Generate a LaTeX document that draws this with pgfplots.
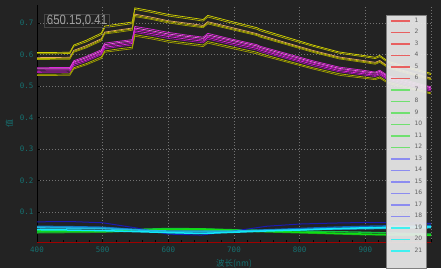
\documentclass[border=0pt]{standalone}
\usepackage{pgfplots}
\pgfplotsset{compat=1.18}
\usepackage{pgfplotstable}
\usepackage{graphicx}
\usepackage{fontspec}
\setmainfont{DejaVu Sans}
\setmonofont{DejaVu Sans Mono}
\newfontfamily\cjk{Noto Sans CJK SC}
\newfontfamily\annfont{Liberation Sans}

\definecolor{bgc}{RGB}{35,35,35}
\definecolor{tealc}{RGB}{22,112,112}
\definecolor{gridc}{RGB}{115,115,115}
\definecolor{ylwA}{RGB}{212,212,0}
\definecolor{ylwB}{RGB}{182,182,0}
\definecolor{ylwC}{RGB}{158,158,0}
\definecolor{orgA}{RGB}{228,168,92}
\definecolor{magA}{RGB}{222,40,222}
\definecolor{magB}{RGB}{190,22,190}
\definecolor{magC}{RGB}{165,20,175}
\definecolor{pnkA}{RGB}{240,100,230}
\definecolor{dblue}{RGB}{26,26,176}
\definecolor{mblue}{RGB}{16,96,192}
\definecolor{tblue}{RGB}{24,144,200}
\definecolor{cyanB}{RGB}{32,184,224}
\definecolor{cyanA}{RGB}{16,232,248}
\definecolor{grnA}{RGB}{16,224,16}
\definecolor{grnB}{RGB}{32,160,32}
\definecolor{grnC}{RGB}{16,192,64}
\definecolor{redd}{RGB}{160,0,0}
\definecolor{legred}{RGB}{232,96,96}
\definecolor{leggrn}{RGB}{112,224,112}
\definecolor{legblu}{RGB}{140,140,240}
\definecolor{legcyn}{RGB}{64,240,240}
\definecolor{legbg}{RGB}{234,234,234}
\definecolor{legtxt}{RGB}{96,96,96}

\pgfplotstableread{
x a b c d e f g h i j k l
400 .606 .602 .590 .587 .584 .558 .555 .551 .547 .543 .537 .533
450 .607 .603 .591 .588 .585 .559 .555 .552 .548 .544 .538 .534
456 .630 .626 .613 .610 .607 .580 .576 .573 .569 .564 .558 .554
475 .645 .640 .628 .624 .621 .594 .590 .586 .582 .578 .571 .567
498 .668 .663 .650 .647 .643 .615 .611 .607 .603 .599 .592 .587
503 .690 .685 .671 .668 .665 .636 .631 .627 .623 .618 .611 .607
525 .697 .692 .678 .675 .671 .642 .638 .634 .629 .625 .618 .613
545 .703 .698 .684 .681 .677 .647 .643 .639 .635 .630 .623 .618
549 .748 .743 .728 .724 .720 .689 .684 .680 .675 .670 .663 .658
575 .738 .733 .718 .714 .711 .680 .675 .671 .666 .661 .654 .649
600 .727 .722 .707 .704 .700 .670 .665 .661 .657 .651 .644 .639
630 .718 .713 .699 .695 .691 .661 .657 .653 .648 .643 .636 .631
653 .711 .706 .692 .688 .685 .655 .651 .646 .642 .637 .630 .625
660 .724 .719 .704 .701 .697 .667 .662 .658 .654 .649 .641 .636
690 .708 .703 .689 .685 .682 .652 .648 .644 .639 .634 .627 .622
735 .685 .680 .666 .663 .660 .631 .627 .623 .619 .614 .607 .602
740 .680 .675 .662 .658 .655 .626 .622 .618 .614 .609 .603 .598
780 .655 .650 .637 .634 .631 .603 .599 .595 .591 .587 .580 .576
820 .630 .626 .613 .610 .607 .580 .576 .573 .569 .564 .558 .554
860 .608 .604 .592 .589 .586 .560 .556 .553 .549 .545 .539 .534
900 .596 .592 .580 .577 .574 .549 .545 .542 .538 .534 .528 .524
915 .591 .587 .575 .572 .569 .544 .541 .537 .534 .530 .524 .520
922 .597 .593 .581 .578 .575 .550 .546 .543 .539 .535 .529 .525
935 .578 .574 .562 .560 .557 .532 .529 .525 .522 .518 .512 .508
960 .563 .559 .548 .545 .542 .519 .515 .512 .508 .504 .499 .495
1000 .540 .536 .525 .523 .520 .497 .494 .491 .488 .484 .478 .475
}\uppertab

\pgfplotstableread{
x db mb tb cb2 cb gb gd gm rd
400 .069 .055 .053 .050 .044 .040 .034 .037 .004
450 .070 .054 .052 .049 .043 .040 .035 .038 .004
500 .066 .052 .050 .047 .041 .040 .036 .040 .004
550 .050 .045 .044 .043 .038 .044 .040 .045 .004
600 .030 .034 .038 .040 .035 .045 .044 .048 .004
650 .027 .033 .037 .040 .032 .046 .043 .047 .004
700 .040 .038 .038 .040 .036 .042 .040 .044 .004
750 .055 .044 .042 .042 .040 .039 .037 .042 .004
800 .062 .048 .045 .044 .043 .036 .034 .040 .004
850 .065 .052 .048 .046 .047 .033 .031 .038 .004
900 .067 .055 .050 .047 .050 .030 .028 .036 .004
950 .066 .057 .053 .049 .052 .028 .027 .033 .004
1000 .064 .058 .055 .050 .053 .027 .026 .030 .004
}\lowertab

\begin{document}
\begin{tikzpicture}
\fill[bgc] (0,0) rectangle (441pt,268pt);
\begin{axis}[
  at={(37pt,26pt)}, anchor=south west,
  scale only axis, width=394pt, height=237pt,
  xmin=400, xmax=1000, ymin=0.005, ymax=0.757,
  axis x line*=bottom, axis y line*=left,
  axis line style={black, line width=0.8pt, -},
  xtick={400,500,600,700,800,900,1000},
  xticklabels={400,500,600,700,800,900,{}},
  ytick={0.1,0.2,0.3,0.4,0.5,0.6,0.7},
  yticklabel style={/pgf/number format/fixed, /pgf/number format/precision=1, /pgf/number format/fixed zerofill},
  minor x tick num=4,
  tick style={black, line width=0.6pt},
  major tick length=3pt, minor tick length=2.5pt,
  tick align=inside,
  grid=major,
  major grid style={gridc, dash pattern=on 1pt off 2pt, line width=0.6pt},
  ticklabel style={font=\ttfamily\fontsize{7.5}{7.5}\selectfont, text=tealc},
  xticklabel style={yshift=-1pt},
  /pgf/number format/assume math mode=true,
  xlabel={波长(nm)},
  xlabel style={font=\cjk\fontsize{8.5}{8.5}\selectfont, text=tealc},
  ylabel={值},
  ylabel style={font=\cjk\fontsize{8}{8}\selectfont, text=tealc},
  legend style={at={(0.886,0.958)}, anchor=north west,
    draw=gray, fill=legbg, fill opacity=0.93, text opacity=1, draw opacity=1,
    font=\fontsize{6}{6}\selectfont, text=legtxt,
    inner xsep=4pt, inner ysep=0pt, row sep=0pt, column sep=4pt,
    nodes={inner sep=0pt, text height=7.2pt, text depth=4.3pt}},
  legend cell align=left,
  legend image code/.code={\draw[#1, line width=1.3pt, draw opacity=1] (0pt,0pt) -- (19pt,0pt);},
]
% upper group
\addplot[forget plot, ylwA, line width=0.7pt] table[y=a] {\uppertab};
\addplot[forget plot, ylwB, line width=0.7pt] table[y=b] {\uppertab};
\addplot[forget plot, orgA, line width=0.7pt] table[y=c] {\uppertab};
\addplot[forget plot, ylwB, line width=0.7pt] table[y=d] {\uppertab};
\addplot[forget plot, ylwC, line width=0.7pt] table[y=e] {\uppertab};
\addplot[forget plot, magA, line width=0.7pt] table[y=f] {\uppertab};
\addplot[forget plot, pnkA, line width=0.7pt] table[y=g] {\uppertab};
\addplot[forget plot, magB, line width=0.7pt] table[y=h] {\uppertab};
\addplot[forget plot, magA, line width=0.7pt] table[y=i] {\uppertab};
\addplot[forget plot, magC, line width=0.7pt] table[y=j] {\uppertab};
\addplot[forget plot, ylwB, line width=0.7pt] table[y=k] {\uppertab};
\addplot[forget plot, ylwC, line width=0.7pt] table[y=l] {\uppertab};
% lower group
\addplot[forget plot, grnB, line width=1.3pt] table[y=gd] {\lowertab};
\addplot[forget plot, grnC, line width=1.3pt] table[y=gm] {\lowertab};
\addplot[forget plot, grnA, line width=1.5pt] table[y=gb] {\lowertab};
\addplot[forget plot, dblue, line width=1pt] table[y=db] {\lowertab};
\addplot[forget plot, mblue, line width=1.3pt] table[y=mb] {\lowertab};
\addplot[forget plot, tblue, line width=1.5pt] table[y=tb] {\lowertab};
\addplot[forget plot, cyanB, line width=1.3pt] table[y=cb2] {\lowertab};
\addplot[forget plot, cyanA, line width=1.5pt] table[y=cb] {\lowertab};
\addplot[forget plot, redd, line width=1.4pt] table[y=rd] {\lowertab};
% annotation
\node[draw=gray!55!black, line width=0.7pt, text={rgb,255:red,160;green,160;blue,160}, inner xsep=2.5pt, inner ysep=0.8pt, font=\annfont\fontsize{12}{12}\selectfont] at (axis cs:461,0.707) {\scalebox{0.95}[1.12]{650.15,0.41}};
% legend
\addlegendimage{color=legred}\addlegendentry{1}
\addlegendimage{color=legred}\addlegendentry{2}
\addlegendimage{color=legred}\addlegendentry{3}
\addlegendimage{color=legred}\addlegendentry{4}
\addlegendimage{color=legred}\addlegendentry{5}
\addlegendimage{color=legred}\addlegendentry{6}
\addlegendimage{color=leggrn}\addlegendentry{7}
\addlegendimage{color=leggrn}\addlegendentry{8}
\addlegendimage{color=leggrn}\addlegendentry{9}
\addlegendimage{color=leggrn}\addlegendentry{10}
\addlegendimage{color=leggrn}\addlegendentry{11}
\addlegendimage{color=leggrn}\addlegendentry{12}
\addlegendimage{color=legblu}\addlegendentry{13}
\addlegendimage{color=legblu}\addlegendentry{14}
\addlegendimage{color=legblu}\addlegendentry{15}
\addlegendimage{color=legblu}\addlegendentry{16}
\addlegendimage{color=legblu}\addlegendentry{17}
\addlegendimage{color=legblu}\addlegendentry{18}
\addlegendimage{color=legcyn}\addlegendentry{19}
\addlegendimage{color=legcyn}\addlegendentry{20}
\addlegendimage{color=legcyn}\addlegendentry{21}
\addlegendimage{empty legend}\addlegendentry{}
\end{axis}
\pgfresetboundingbox
\path[use as bounding box] (0,0) rectangle (441pt,268pt);
\end{tikzpicture}
\end{document}
